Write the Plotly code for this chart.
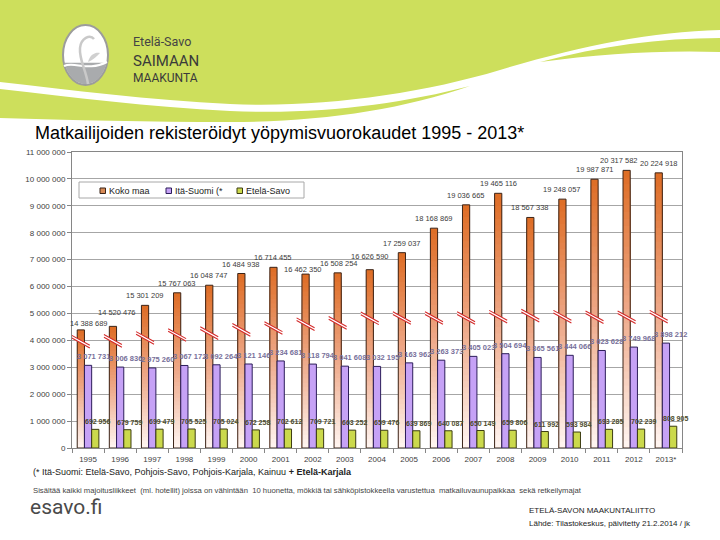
import math
import plotly.graph_objects as go

# ---------------- data ----------------
YEARS = ["1995", "1996", "1997", "1998", "1999", "2000", "2001", "2002", "2003", "2004",
         "2005", "2006", "2007", "2008", "2009", "2010", "2011", "2012", "2013*"]
KOKO_MAA = [14388689, 14520476, 15301209, 15767063, 16048747, 16484938, 16714455, 16462350,
            16508254, 16626590, 17259037, 18168869, 19036665, 19465116, 18567338, 19248057,
            19987871, 20317582, 20224918]
ITA_SUOMI = [3071731, 3006836, 2975260, 3067172, 3092264, 3121146, 3234681, 3118794, 3041608,
             3032195, 3163962, 3263373, 3405023, 3504694, 3365561, 3444066, 3623628, 3749968,
             3898212]
ETELA_SAVO = [692956, 679759, 699479, 705525, 705024, 672258, 702612, 709721, 663252, 659476,
              639869, 640087, 650149, 659806, 611992, 593984, 693285, 702239, 808905]
SERIES_NAMES = ["Koko maa", "Itä-Suomi (*", "Etelä-Savo"]
Y_TICKS = list(range(0, 11000001, 1000000))
AXIS_BREAK = 10000000          # "Koko maa" bars are drawn with 10 000 000 cut out
BREAK_LEVELS = [3.95e6, 3.98e6, 4.09e6, 4.2e6, 4.27e6, 4.39e6, 4.46e6, 4.6e6, 4.65e6, 4.82e6,
                4.83e6, 4.83e6, 4.83e6, 4.88e6, 4.92e6, 4.88e6, 4.86e6, 4.86e6, 4.88e6]

TITLE = "Matkailijoiden rekisteröidyt yöpymisvuorokaudet 1995 - 2013*"

# label nudges (pixels, +y = up) for a few crowded "Koko maa" labels
KOKO_LABEL_NUDGE = {0: (8, -3), 1: (4, 4), 7: (-3, -5), 8: (1, 0), 9: (0, 4), 17: (-8, 0)}

# ---------------- layout geometry (pixels of 720x540 page) ----------------
W, H = 720, 540
PL, PR, PT, PB = 72, 682, 152, 448


def PX(x):
    return (x - PL) / (PR - PL)


def PY(y):
    return (PB - y) / (PB - PT)


def path_px(cmds):
    out = []
    for c, pts in cmds:
        s = c
        s += " ".join(f"{PX(x):.5f},{PY(y):.5f}" for x, y in pts)
        out.append(s)
    return " ".join(out)


def fmt(v):
    return f"{v:,}".replace(",", " ")


FONT = "Liberation Sans, Arial, sans-serif"

fig = go.Figure()

idx = list(range(len(YEARS)))
BW = 0.225
OFF = [-0.3375, -0.1125, 0.1125]
COLORS = ["#d88a55", "#c6a2f6", "#cbd94c"]
LINES = ["#3b2418", "#2c1d5a", "#3c3c12"]

# ---- Koko maa: gradient bars (nested bars, dark at top -> white at bottom) ----
heights = [v - AXIS_BREAK for v in KOKO_MAA]
TOP = (222, 108, 36)
MID = (238, 168, 136)
BOT = (255, 246, 242)


def grad(f):
    if f >= 0.5:
        t = (f - 0.5) / 0.5
        a, b = MID, TOP
    else:
        t = f / 0.5
        a, b = BOT, MID
    return "rgb(%d,%d,%d)" % tuple(round(a[i] + (b[i] - a[i]) * t) for i in range(3))


N = 40
for k in range(N):
    frac = (N - k) / N
    fig.add_trace(go.Bar(
        x=idx, y=[h * frac for h in heights], offset=OFF[0], width=BW,
        marker=dict(color=grad(frac - 0.5 / N), line=dict(width=0)),
        showlegend=False, hoverinfo="skip"))

fig.add_trace(go.Bar(
    x=idx, y=heights, offset=OFF[0], width=BW,
    marker=dict(color="rgba(0,0,0,0)", line=dict(color=LINES[0], width=1)),
    customdata=KOKO_MAA, hovertemplate="%{customdata}<extra></extra>",
    showlegend=False, name=SERIES_NAMES[0]))

fig.add_trace(go.Bar(
    x=idx, y=ITA_SUOMI, offset=OFF[1], width=BW,
    marker=dict(color=COLORS[1], line=dict(color=LINES[1], width=1)),
    showlegend=False, name=SERIES_NAMES[1]))

fig.add_trace(go.Bar(
    x=idx, y=ETELA_SAVO, offset=OFF[2], width=BW,
    marker=dict(color=COLORS[2], line=dict(color=LINES[2], width=1)),
    showlegend=False, name=SERIES_NAMES[2]))

annotations = []

# ---- data labels ----
for i, (v, h) in enumerate(zip(KOKO_MAA, heights)):
    dx, dy = KOKO_LABEL_NUDGE.get(i, (0, 0))
    annotations.append(dict(x=i + OFF[0] + BW / 2, y=h, xref="x", yref="y", text=fmt(v),
                            showarrow=False, xanchor="center", yanchor="bottom",
                            xshift=dx, yshift=3 + dy,
                            font=dict(family=FONT, size=7.5, color="#3c3c3c")))
for i, v in enumerate(ITA_SUOMI):
    annotations.append(dict(x=i + OFF[1] + BW / 2, y=v, xref="x", yref="y", text=fmt(v),
                            showarrow=False, xanchor="center", yanchor="bottom",
                            xshift=5, yshift=2,
                            font=dict(family=FONT, size=7.5, color="#77709a",
                                      weight="bold")))
for i, v in enumerate(ETELA_SAVO):
    annotations.append(dict(x=i + OFF[2] + BW / 2, y=v, xref="x", yref="y", text=fmt(v),
                            showarrow=False, xanchor="center", yanchor="bottom",
                            xshift=2, yshift=2,
                            font=dict(family=FONT, size=7, color="#4b4b2b", weight="bold")))

shapes = []
# ---- axis break marks on Koko maa bars ----
for i, yb in zip(idx, BREAK_LEVELS):
    xc = i + OFF[0] + BW / 2
    hw, dy, th = 0.28, 0.185e6, 0.05e6
    poly = (f"M{xc-hw},{yb+dy+th} L{xc+hw},{yb-dy+th} L{xc+hw},{yb-dy-th} "
            f"L{xc-hw},{yb+dy-th} Z")
    shapes.append(dict(type="path", xref="x", yref="y", path=poly,
                       fillcolor="white", line=dict(width=0), layer="above"))
    lines = (f"M{xc-hw},{yb+dy+th} L{xc+hw},{yb-dy+th} "
             f"M{xc-hw},{yb+dy-th} L{xc+hw},{yb-dy-th}")
    shapes.append(dict(type="path", xref="x", yref="y", path=lines,
                       line=dict(color="#d42a2a", width=1.1), layer="above"))

# ---- legend box (drawn like the original chart's legend) ----
shapes.append(dict(type="rect", xref="paper", yref="paper", x0=PX(79), x1=PX(304),
                   y0=PY(198), y1=PY(182), fillcolor="white",
                   line=dict(color="#a8a8a8", width=1), layer="above"))
LEG_X = [100, 166, 237]
for name, lx, col, lc in zip(SERIES_NAMES, LEG_X, COLORS, LINES):
    shapes.append(dict(type="rect", xref="paper", yref="paper", x0=PX(lx), x1=PX(lx + 5.5),
                       y0=PY(193.5), y1=PY(188), fillcolor=col,
                       line=dict(color=lc, width=1), layer="above"))
    annotations.append(dict(x=PX(lx + 6.5), y=PY(190.5), xref="paper", yref="paper",
                            text=name, showarrow=False, xanchor="left", yanchor="middle",
                            font=dict(family=FONT, size=9, color="#222222")))

# ---- header banner ----
GREEN = "#cddf5c"
top_green = [("M", [(0, 0)]), ("L", [(720, 0)]), ("L", [(720, 30)]),
             ("C", [(650, 32), (580, 46), (500, 70)]),
             ("C", [(420, 94), (320, 108), (230, 104)]),
             ("C", [(150, 100), (70, 90), (0, 82)]), ("Z", [])]
shapes.append(dict(type="path", xref="paper", yref="paper", path=path_px(top_green),
                   fillcolor=GREEN, line=dict(width=0), layer="below"))
band = [("M", [(0, 89)]), ("C", [(70, 97), (150, 107), (230, 111)]),
        ("C", [(320, 115), (400, 104), (470, 86)]),
        ("C", [(400, 110), (320, 122), (230, 122)]),
        ("C", [(150, 122), (70, 120), (0, 118)]), ("Z", [])]
shapes.append(dict(type="path", xref="paper", yref="paper", path=path_px(band),
                   fillcolor=GREEN, line=dict(width=0), layer="below"))
band_r = [("M", [(540, 62)]), ("C", [(600, 46), (660, 38), (720, 38)]),
          ("L", [(720, 52)]), ("C", [(660, 50), (600, 54), (540, 62)]), ("Z", [])]
shapes.append(dict(type="path", xref="paper", yref="paper", path=path_px(band_r),
                   fillcolor=GREEN, line=dict(width=0), layer="below"))

# ---- logo ----
cx, cy, rx, ry = 85.5, 55, 22.5, 30
shapes.append(dict(type="circle", xref="paper", yref="paper",
                   x0=PX(cx - rx), x1=PX(cx + rx), y0=PY(cy + ry), y1=PY(cy - ry),
                   fillcolor="white", line=dict(color="#9c9c9c", width=2), layer="below"))
wy = 63
a0 = math.asin((wy - cy) / ry)
pts = []
nseg = 30
for j in range(nseg + 1):
    a = a0 + (math.pi - 2 * a0) * j / nseg
    pts.append((cx + rx * math.cos(a) * 0.97, cy + ry * math.sin(a) * 0.97))
water = [("M", [pts[0]])] + [("L", [p]) for p in pts[1:]] + [("Z", [])]
shapes.append(dict(type="path", xref="paper", yref="paper", path=path_px(water),
                   fillcolor="#a9abad", line=dict(width=0), layer="below"))
wave = [("M", [(64, 66)]), ("C", [(74, 61), (88, 72), (107, 62)])]
shapes.append(dict(type="path", xref="paper", yref="paper", path=path_px(wave),
                   line=dict(color="white", width=2), layer="below"))
stem = [("M", [(88, 84)]), ("C", [(86, 70), (79, 60), (80, 48)]),
        ("C", [(81, 38), (90, 34), (94, 39)])]
shapes.append(dict(type="path", xref="paper", yref="paper", path=path_px(stem),
                   line=dict(color="#c9c9c9", width=2.5), layer="below"))
leaf = [("M", [(88, 62)]), ("C", [(90, 54), (96, 52), (100, 53)]),
        ("C", [(97, 56), (93, 60), (88, 62)]), ("Z", [])]
shapes.append(dict(type="path", xref="paper", yref="paper", path=path_px(leaf),
                   fillcolor="#d0d0d0", line=dict(width=0), layer="below"))


def txt(x, y, s, size, color="#000000", family=FONT, xanchor="left", weight="normal"):
    annotations.append(dict(x=PX(x), y=PY(y), xref="paper", yref="paper", text=s,
                            showarrow=False, xanchor=xanchor, yanchor="middle",
                            font=dict(family=family, size=size, color=color, weight=weight)))


txt(131, 42, "Etelä-Savo", 12.5, "#444444", family="Roboto, sans-serif")
txt(131, 61, "SAIMAAN", 15, "#3a3a3a", family="Roboto, sans-serif")
txt(131, 78, "MAAKUNTA", 12, "#3a3a3a", family="Roboto, sans-serif")
txt(33, 133, TITLE, 18, "#000000")
txt(31, 472, "(* Itä-Suomi: Etelä-Savo, Pohjois-Savo, Pohjois-Karjala, Kainuu "
             "<b>+ Etelä-Karjala</b>", 9, "#222222")
txt(31, 490, "Sisältää kaikki majoitusliikkeet  (ml. hotellit) joissa on vähintään  10 huonetta, "
             "mökkiä tai sähköpistokkeella varustettua  matkailuvaunupaikkaa  sekä retkeilymajat",
    7.7, "#444444")
txt(28, 507, "esavo.fi", 21, "#4a4a4a", family="Roboto, sans-serif")
txt(527, 511, "ETELÄ-SAVON MAAKUNTALIITTO", 8, "#222222")
txt(527, 523, "Lähde: Tilastokeskus, päivitetty 21.2.2014 / jk", 8, "#222222")

fig.update_layout(
    width=W, height=H,
    margin=dict(l=PL, r=W - PR, t=PT, b=H - PB, pad=0),
    paper_bgcolor="white", plot_bgcolor="white",
    barmode="overlay",
    separators=", ",
    font=dict(family=FONT, size=8, color="#404040"),
    showlegend=False,
    shapes=shapes, annotations=annotations,
)
fig.update_xaxes(range=[-0.5, len(YEARS) - 0.5], tickmode="array", tickvals=idx,
                 ticktext=YEARS, ticks="", showgrid=False, zeroline=False,
                 showline=True, linecolor="#868686", linewidth=1, mirror=True,
                 ticklabelstandoff=3,
                 tickfont=dict(family=FONT, size=8, color="#404040"),
                 minor=dict(tickmode="array", tickvals=[i - 0.5 for i in range(len(YEARS) + 1)],
                            ticks="outside", ticklen=4, tickcolor="#868686", showgrid=False))
fig.update_yaxes(range=[0, 11000000], tickmode="array", tickvals=Y_TICKS,
                 ticktext=[fmt(v) for v in Y_TICKS], ticks="outside", ticklen=4,
                 tickcolor="#868686", showgrid=True, gridcolor="#a6a6a6", gridwidth=1,
                 zeroline=False, showline=True, linecolor="#868686", linewidth=1, mirror=True,
                 tickfont=dict(family=FONT, size=8, color="#404040"))

fig.write_html("out.html", config={"displayModeBar": False},
               post_script="document.body.style.margin='0';document.body.style.overflow='hidden';")
